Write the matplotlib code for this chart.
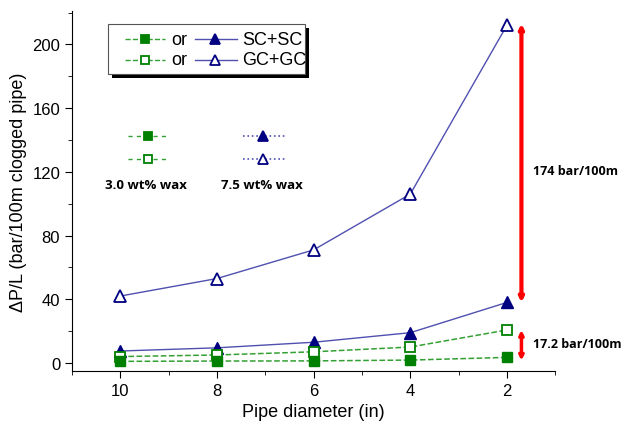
import matplotlib
matplotlib.use('Agg')
from matplotlib import pyplot as plt
from matplotlib.lines import Line2D
from matplotlib.patches import Rectangle
from matplotlib.ticker import MultipleLocator

# pipe diameters (in)
diam = [10, 8, 6, 4, 2]
# 7.5 wt% wax
gc_75 = [42, 53, 71, 106, 212]
sc_75 = [7.5, 9.5, 13, 19, 38]
# 3.0 wt% wax
gc_30 = [4, 5, 7, 10, 20.7]
sc_30 = [1, 1.2, 1.3, 1.8, 3.5]

plt.rcParams['font.family'] = ['Liberation Sans', 'DejaVu Sans']

navy = '#000080'
bline = '#5050b0'
green = '#008000'
lgreen = '#33a033'
bold_fam = ['Open Sans', 'DejaVu Sans']

fig = plt.figure(figsize=(6.26, 4.27), dpi=100)
ax = fig.add_axes([0.115, 0.129, 0.772, 0.843])

ax.plot(diam, gc_75, '-', color=bline, lw=1, marker='^', ms=8, mfc='white',
        mec=navy, mew=1.3, zorder=3)
ax.plot(diam, sc_75, '-', color=bline, lw=1, marker='^', ms=8, mfc=navy,
        mec=navy, zorder=3)
ax.plot(diam, gc_30, '--', color=lgreen, lw=1.1, marker='s', ms=6.5,
        mfc='white', mec=green, mew=1.3, zorder=3)
ax.plot(diam, sc_30, '--', color=lgreen, lw=1.1, marker='s', ms=6.5,
        mfc=green, mec=green, zorder=3)

# red difference arrows
xa = 1.7
ax.annotate('', xy=(xa, gc_75[-1] + 1), xytext=(xa, sc_75[-1]),
            arrowprops=dict(arrowstyle='<|-|>', color='red', lw=3,
                            mutation_scale=6, shrinkA=0, shrinkB=0))
ax.annotate('', xy=(xa, gc_30[-1]), xytext=(xa, sc_30[-1] - 2),
            arrowprops=dict(arrowstyle='<|-|>', color='red', lw=2.5,
                            mutation_scale=6, shrinkA=0, shrinkB=0))
d1 = gc_75[-1] - sc_75[-1]
d2 = gc_30[-1] - sc_30[-1]
ax.text(1.46, 121, '%d bar/100m' % round(d1), fontsize=9,
        fontweight='bold', family=bold_fam, va='center', ha='left',
        clip_on=False)
ax.text(1.46, 12, '%.1f bar/100m' % d2, fontsize=9,
        fontweight='bold', family=bold_fam, va='center', ha='left',
        clip_on=False)

ax.set_xlim(11, 1)
ax.set_ylim(-5, 221)
ax.set_xticks(diam)
ax.xaxis.set_minor_locator(MultipleLocator(1))
ax.yaxis.set_major_locator(MultipleLocator(40))
ax.yaxis.set_minor_locator(MultipleLocator(20))
ax.tick_params(which='both', direction='out', labelsize=12)
ax.tick_params(which='major', length=5)
ax.tick_params(which='minor', length=3)
for s in ['top', 'right']:
    ax.spines[s].set_visible(False)
ax.set_xlabel('Pipe diameter (in)', fontsize=13)
ax.set_ylabel('ΔP/L (bar/100m clogged pipe)', fontsize=13)

# legend box with shadow
tr = ax.transAxes
ax.add_patch(Rectangle((0.082, 0.814), 0.408, 0.139, transform=tr,
                       facecolor='black', edgecolor='none', zorder=4))
ax.add_patch(Rectangle((0.0745, 0.825), 0.408, 0.139, transform=tr,
                       facecolor='white', edgecolor='#555555', lw=0.8,
                       zorder=5))
rows = [(0.922, True, 'SC+SC'), (0.864, False, 'GC+GC')]
for yy, fill, lab in rows:
    ax.add_line(Line2D([0.110, 0.193], [yy, yy], transform=tr, ls='--',
                       color=lgreen, lw=1, zorder=6))
    ax.add_line(Line2D([0.151], [yy], transform=tr, marker='s', ms=6,
                       mfc=(green if fill else 'white'), mec=green, mew=1.3,
                       zorder=7))
    ax.text(0.205, yy, 'or', transform=tr, fontsize=13, va='center', zorder=7)
    ax.add_line(Line2D([0.255, 0.342], [yy, yy], transform=tr, color=bline,
                       lw=1, zorder=6))
    ax.add_line(Line2D([0.296], [yy], transform=tr, marker='^', ms=7.5,
                       mfc=(navy if fill else 'white'), mec=navy,
                       mew=1.3, zorder=7))
    ax.text(0.352, yy, lab, transform=tr, fontsize=13, va='center', zorder=7)

# second key
for yy, fill in [(0.653, True), (0.589, False)]:
    ax.add_line(Line2D([0.116, 0.199], [yy, yy], transform=tr, ls='--',
                       color=lgreen, lw=1, dashes=(3, 3)))
    ax.add_line(Line2D([0.158], [yy], transform=tr, marker='s', ms=6,
                       mfc=(green if fill else 'white'), mec=green, mew=1.3))
    ax.add_line(Line2D([0.354, 0.441], [yy, yy], transform=tr, ls=':',
                       color=bline, lw=1.2))
    ax.add_line(Line2D([0.395], [yy], transform=tr, marker='^', ms=7.5,
                       mfc=(navy if fill else 'white'), mec=navy, mew=1.3))
ax.text(0.153, 0.519, '3.0 wt% wax', transform=tr, fontsize=9.5,
        fontweight='bold', family=bold_fam, ha='center', va='center')
ax.text(0.393, 0.519, '7.5 wt% wax', transform=tr, fontsize=9.5,
        fontweight='bold', family=bold_fam, ha='center', va='center')

fig.savefig('out.png', dpi=100)
